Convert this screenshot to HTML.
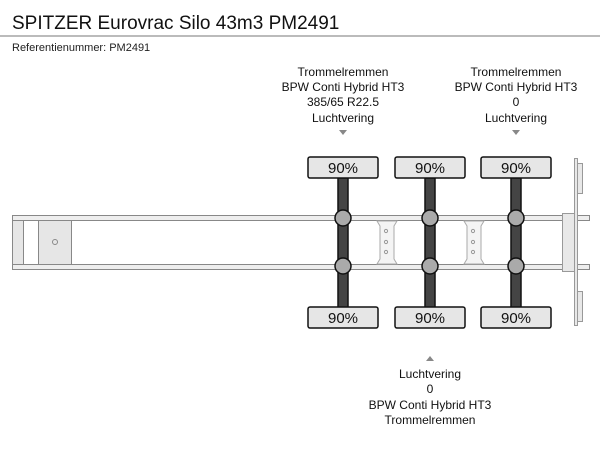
<!DOCTYPE html>
<html><head><meta charset="utf-8"><style>
body{margin:0;background:#fff;width:600px;height:450px;overflow:hidden;font-family:"Liberation Sans",sans-serif}
</style></head><body>
<svg width="600" height="450" xmlns="http://www.w3.org/2000/svg" font-family="Liberation Sans, sans-serif">
<text x="12" y="29" font-size="19" fill="#111">SPITZER Eurovrac Silo 43m3 PM2491</text>
<line x1="0" y1="36" x2="600" y2="36" stroke="#777" stroke-width="1"/>
<text x="12" y="51" font-size="11" fill="#222">Referentienummer: PM2491</text>
<g font-size="12" fill="#111" text-anchor="middle">
<text x="343" y="76">Trommelremmen</text><text x="343" y="91">BPW Conti Hybrid HT3</text><text x="343" y="106">385/65 R22.5</text><text x="343" y="122">Luchtvering</text>
<text x="516" y="76">Trommelremmen</text><text x="516" y="91">BPW Conti Hybrid HT3</text><text x="516" y="106">0</text><text x="516" y="122">Luchtvering</text>
<text x="430" y="378">Luchtvering</text><text x="430" y="393">0</text><text x="430" y="409">BPW Conti Hybrid HT3</text><text x="430" y="424">Trommelremmen</text>
</g>
<g fill="#888"><path d="M339 130h8l-4 5z"/><path d="M512 130h8l-4 5z"/><path d="M426 361h8l-4-5z"/></g>
<!-- frame -->
<g stroke="#888" stroke-width="1" fill="#eee">
<rect x="12.5" y="215.5" width="577" height="5"/>
<rect x="12.5" y="264.5" width="577" height="5"/>
<rect x="12.5" y="220.5" width="11" height="44" fill="#e6e6e6"/>
<rect x="38.5" y="220.5" width="33" height="44" fill="#e6e6e6"/>
</g>
<circle cx="55" cy="242" r="2.5" fill="none" stroke="#888"/>
<g stroke="#aaa" fill="#f4f4f4">
<path d="M377 221h20l-3 5v33l3 5h-20l3-5v-33z"/>
<path d="M464 221h20l-3 5v33l3 5h-20l3-5v-33z"/>
</g>
<g fill="none" stroke="#999"><circle cx="386" cy="231" r="1.6"/><circle cx="386" cy="242" r="1.6"/><circle cx="386" cy="252" r="1.6"/><circle cx="473" cy="231" r="1.6"/><circle cx="473" cy="242" r="1.6"/><circle cx="473" cy="252" r="1.6"/></g>
<g stroke="#999" fill="#e8e8e8">
<rect x="562.5" y="213.5" width="12" height="58"/>
<rect x="574.5" y="158.5" width="3" height="167"/>
<rect x="577.5" y="163.5" width="5" height="30"/>
<rect x="577.5" y="291.5" width="5" height="30"/>
</g>
<g id="ax">
</g>
<g stroke="#111" stroke-width="1.5">
<rect x="338" y="178" width="10" height="130" fill="#444"/>
<rect x="425" y="178" width="10" height="130" fill="#444"/>
<rect x="511" y="178" width="10" height="130" fill="#444"/>
<g fill="#aaa"><circle cx="343" cy="218" r="8"/><circle cx="343" cy="266" r="8"/><circle cx="430" cy="218" r="8"/><circle cx="430" cy="266" r="8"/><circle cx="516" cy="218" r="8"/><circle cx="516" cy="266" r="8"/></g>
<g fill="#e6e6e6"><rect x="308" y="157" width="70" height="21" rx="2"/><rect x="395" y="157" width="70" height="21" rx="2"/><rect x="481" y="157" width="70" height="21" rx="2"/>
<rect x="308" y="307" width="70" height="21" rx="2"/><rect x="395" y="307" width="70" height="21" rx="2"/><rect x="481" y="307" width="70" height="21" rx="2"/></g>
</g>
<g font-size="15" fill="#111" text-anchor="middle">
<text x="343" y="173">90%</text><text x="430" y="173">90%</text><text x="516" y="173">90%</text>
<text x="343" y="323">90%</text><text x="430" y="323">90%</text><text x="516" y="323">90%</text>
</g>
</svg>
</body></html>
